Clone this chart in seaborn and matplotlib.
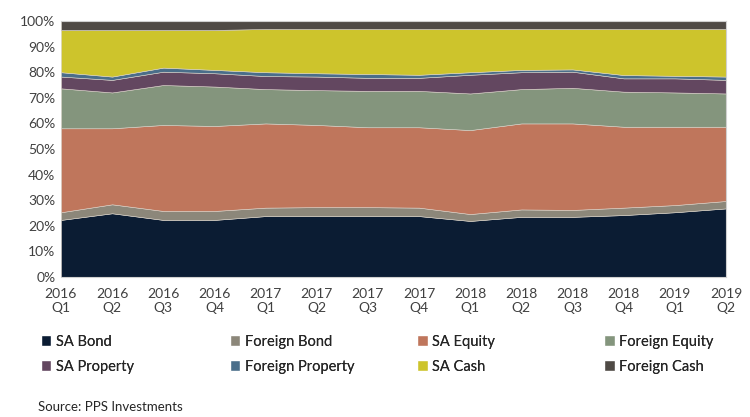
import matplotlib
matplotlib.use("Agg")
import matplotlib.pyplot as plt
from matplotlib.patches import Patch
from matplotlib.ticker import PercentFormatter
import seaborn as sns
import pandas as pd

quarters = ["2016\nQ1", "2016\nQ2", "2016\nQ3", "2016\nQ4",
            "2017\nQ1", "2017\nQ2", "2017\nQ3", "2017\nQ4",
            "2018\nQ1", "2018\nQ2", "2018\nQ3", "2018\nQ4",
            "2019\nQ1", "2019\nQ2"]

sa_bond = [22.3, 24.9, 22.3, 22.3, 23.8, 23.8, 23.8, 23.8, 21.9, 23.5, 23.5, 24.2, 25.3, 26.8]
foreign_bond = [3.0, 3.5, 3.5, 3.5, 3.3, 3.5, 3.5, 3.3, 2.7, 2.9, 2.7, 2.9, 2.8, 2.9]
sa_equity = [32.8, 29.7, 33.6, 33.2, 32.9, 32.1, 31.2, 31.4, 32.8, 33.6, 33.8, 31.6, 30.6, 29.0]
foreign_equity = [15.6, 14.0, 15.6, 15.4, 13.4, 13.6, 14.2, 14.2, 14.3, 13.4, 13.9, 13.7, 13.4, 13.0]
sa_property = [4.6, 4.9, 5.2, 5.2, 5.1, 5.3, 5.1, 5.1, 7.3, 6.6, 6.3, 5.2, 5.5, 5.3]
foreign_property = [1.7, 1.3, 1.6, 1.3, 1.5, 1.3, 1.5, 1.2, 1.0, 0.9, 0.9, 1.3, 1.0, 1.3]
foreign_cash = [3.5, 3.5, 3.5, 3.5, 3.1, 3.1, 3.1, 3.1, 3.1, 3.1, 3.1, 3.1, 3.1, 3.1]

series = {
    "SA Bond": sa_bond,
    "Foreign Bond": foreign_bond,
    "SA Equity": sa_equity,
    "Foreign Equity": foreign_equity,
    "SA Property": sa_property,
    "Foreign Property": foreign_property,
}
df = pd.DataFrame(series, index=quarters)
# cash is whatever is left to reach 100%
df["SA Cash"] = 100 - df.sum(axis=1) - pd.Series(foreign_cash, index=quarters)
df["Foreign Cash"] = foreign_cash

colors = ["#0b1c33", "#8c877a", "#bf765c", "#84957d",
          "#634760", "#4a6e8a", "#cdc42c", "#4f4a45"]
palette = sns.color_palette(colors)

sns.set_theme(style="white")
plt.rcParams["font.family"] = ["Lato", "DejaVu Sans"]

fig = plt.figure(figsize=(7.5, 4.17), dpi=100)
ax = fig.add_axes([0.0813, 0.3357, 0.8867, 0.6139])

x = range(len(quarters))
ax.stackplot(x, [df[c] for c in df.columns], colors=palette, linewidth=0.4,
             edgecolor="#d9d2c8")

ax.set_xlim(0, len(quarters) - 1)
ax.set_ylim(0, 100)
ax.set_yticks(range(0, 101, 10))
ax.yaxis.set_major_formatter(PercentFormatter(decimals=0))
ax.set_xticks(list(x))
ax.set_xticklabels(quarters)
ax.tick_params(axis="x", direction="out", length=5, color="#bfbfbf",
               labelsize=10, labelcolor="#404040", pad=3)
ax.tick_params(axis="y", length=0, labelsize=10, labelcolor="#404040", pad=4)
for s in ["top", "right", "bottom", "left"]:
    ax.spines[s].set_color("#d0d0d0")
    ax.spines[s].set_linewidth(0.8)
ax.spines["left"].set_visible(False)

# legend: 4 evenly spaced columns, 2 rows, filled row by row
names = list(df.columns)
col_x = [0.054, 0.306, 0.556, 0.805]
for j, cx in enumerate(col_x):
    hs = [Patch(facecolor=palette[j], label=names[j]),
          Patch(facecolor=palette[j + 4], label=names[j + 4])]
    leg = fig.legend(handles=hs, loc="upper left", bbox_to_anchor=(cx, 0.197),
                     frameon=False, fontsize=10.5, handlelength=0.75,
                     handleheight=0.75, handletextpad=0.3, labelspacing=0.75,
                     borderaxespad=0, borderpad=0, labelcolor="#262626")
    fig.add_artist(leg)

fig.text(0.05, 0.015, "Source: PPS Investments", fontsize=9.5, color="#262626")

fig.savefig("out.png", dpi=100)
